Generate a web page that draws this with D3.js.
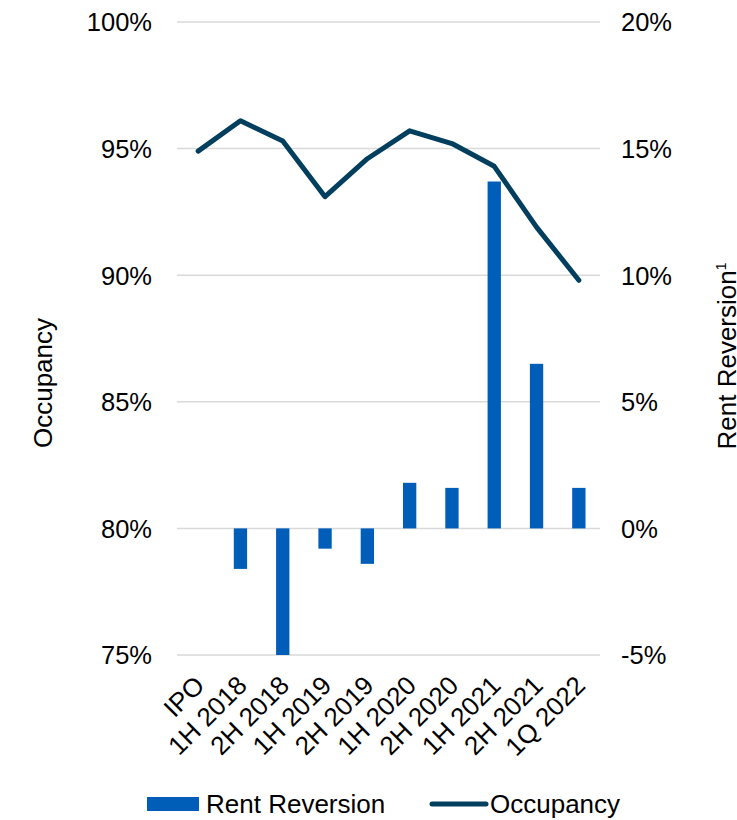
<!DOCTYPE html>
<html>
<head>
<meta charset="utf-8">
<script src="https://cdn.jsdelivr.net/npm/d3@7"></script>
<style>
  html, body { margin: 0; padding: 0; background: #fff; }
  svg { display: block; font-family: "Liberation Sans", Arial, sans-serif; }
</style>
</head>
<body>
<svg id="chart" width="737" height="820"></svg>
<script>
const categories = ["IPO", "1H 2018", "2H 2018", "1H 2019", "2H 2019", "1H 2020", "2H 2020", "1H 2021", "2H 2021", "1Q 2022"];
const occupancy = [0.949, 0.961, 0.953, 0.931, 0.946, 0.957, 0.952, 0.943, 0.919, 0.898];
const rentReversion = [null, -0.016, -0.050, -0.008, -0.014, 0.018, 0.016, 0.137, 0.065, 0.016];
const leftTicks = [0.75, 0.80, 0.85, 0.90, 0.95, 1.00];
const rightTicks = [-0.05, 0, 0.05, 0.10, 0.15, 0.20];

const barColor = "#005EB8";
const lineColor = "#023E5E";
const gridColor = "#D9D9D9";
const tickFont = 25.5;
const labelFont = 26;

const svg = d3.select("#chart");
const plot = { left: 177, right: 600, top: 22, bottom: 655 };

const x = d3.scaleBand().domain(categories).range([plot.left, plot.right]);
const yL = d3.scaleLinear().domain([0.75, 1.0]).range([plot.bottom, plot.top]);
const yR = d3.scaleLinear().domain([-0.05, 0.20]).range([plot.bottom, plot.top]);
const barW = x.bandwidth() * 0.315;

// gridlines
svg.append("g").selectAll("line").data(leftTicks).join("line")
  .attr("x1", plot.left).attr("x2", plot.right)
  .attr("y1", d => yL(d)).attr("y2", d => yL(d))
  .attr("stroke", gridColor).attr("stroke-width", 1.5);

// left axis
const fmtPct = d => Math.round(d * 100) + "%";
const leftAxis = d3.axisLeft(yL).tickValues(leftTicks).tickFormat(fmtPct).tickSize(0).tickPadding(0);
const gL = svg.append("g").attr("transform", `translate(152,0)`).call(leftAxis);
gL.select(".domain").remove();
gL.selectAll("text").attr("font-size", tickFont).attr("fill", "#000").attr("font-family", "Liberation Sans, Arial, sans-serif").attr("dy", "0.35em");

// right axis
const rightAxis = d3.axisRight(yR).tickValues(rightTicks).tickFormat(fmtPct).tickSize(0).tickPadding(0);
const gR = svg.append("g").attr("transform", `translate(621,0)`).call(rightAxis);
gR.select(".domain").remove();
gR.selectAll("text").attr("font-size", tickFont).attr("fill", "#000").attr("font-family", "Liberation Sans, Arial, sans-serif").attr("dy", "0.35em");

// bars
const barData = categories.map((c, i) => ({ c, v: rentReversion[i] })).filter(d => d.v !== null);
svg.append("g").selectAll("rect").data(barData).join("rect")
  .attr("x", d => x(d.c) + (x.bandwidth() - barW) / 2)
  .attr("width", barW)
  .attr("y", d => Math.min(yR(d.v), yR(0)))
  .attr("height", d => Math.abs(yR(d.v) - yR(0)))
  .attr("fill", barColor);

// line
const lineData = categories.map((c, i) => ({ c, v: occupancy[i] }));
const line = d3.line().x(d => x(d.c) + x.bandwidth() / 2).y(d => yL(d.v));
svg.append("path").datum(lineData)
  .attr("d", line)
  .attr("fill", "none")
  .attr("stroke", lineColor)
  .attr("stroke-width", 5)
  .attr("stroke-linejoin", "round")
  .attr("stroke-linecap", "round");

// x labels
svg.append("g").selectAll("text").data(categories).join("text")
  .attr("transform", d => `translate(${x(d) + x.bandwidth() / 2 + 8},${687}) rotate(-45)`)
  .attr("text-anchor", "end")
  .attr("font-size", labelFont)
  .attr("fill", "#000")
  .text(d => d);

// axis titles
svg.append("text")
  .attr("transform", `translate(52,383) rotate(-90)`)
  .attr("text-anchor", "middle")
  .attr("font-size", labelFont)
  .attr("fill", "#000")
  .text("Occupancy");

const rt = svg.append("text")
  .attr("transform", `translate(736,356) rotate(-90)`)
  .attr("text-anchor", "middle")
  .attr("font-size", labelFont)
  .attr("fill", "#000");
rt.append("tspan").text("Rent Reversion");
rt.append("tspan").attr("font-size", 14).attr("dy", "-0.75em").text("1");

// legend
const lg = svg.append("g");
lg.append("rect").attr("x", 147).attr("y", 797).attr("width", 52).attr("height", 14).attr("fill", barColor);
lg.append("text").attr("x", 206).attr("y", 813).attr("font-size", labelFont).attr("fill", "#000").text("Rent Reversion");
lg.append("line").attr("x1", 432).attr("x2", 486).attr("y1", 804).attr("y2", 804)
  .attr("stroke", lineColor).attr("stroke-width", 5).attr("stroke-linecap", "round");
lg.append("text").attr("x", 490).attr("y", 813).attr("font-size", labelFont).attr("fill", "#000").text("Occupancy");
</script>
</body>
</html>
